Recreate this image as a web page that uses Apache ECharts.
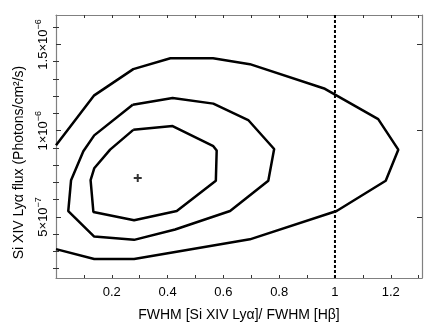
<!DOCTYPE html>
<html>
<head>
<meta charset="utf-8">
<script src="https://cdn.jsdelivr.net/npm/echarts@6/dist/echarts.min.js"></script>
<style>
html,body{margin:0;padding:0;background:#fff;}
#chart{width:436px;height:327px;}
</style>
</head>
<body>
<div id="chart"></div>
<script>
// ---- data (x: FWHM ratio, y: flux in photons/cm^2/s) ----
const outerX = [0, 0.137, 0.277, 0.41, 0.563, 0.695, 0.964, 1.155, 1.227, 1.182, 1.006, 0.695, 0.28, 0.137, 0];
const outerY = [9.15e-7, 12.05e-7, 13.57e-7, 14.2e-7, 14.2e-7, 13.86e-7, 12.43e-7, 10.67e-7, 8.90e-7, 7.10e-7, 5.34e-7, 3.70e-7, 2.56e-7, 2.56e-7, 3.13e-7];

const middleX = [0.275, 0.418, 0.564, 0.689, 0.782, 0.761, 0.624, 0.427, 0.280, 0.137, 0.044, 0.054, 0.098, 0.137, 0.275];
const middleY = [11.51e-7, 11.90e-7, 11.57e-7, 10.62e-7, 8.94e-7, 7.10e-7, 5.34e-7, 4.27e-7, 3.67e-7, 3.86e-7, 5.34e-7, 7.13e-7, 8.81e-7, 9.73e-7, 11.51e-7];

const innerX = [0.277, 0.418, 0.564, 0.576, 0.573, 0.433, 0.280, 0.134, 0.124, 0.137, 0.194, 0.277];
const innerY = [10.05e-7, 10.27e-7, 9.10e-7, 8.85e-7, 7.10e-7, 5.34e-7, 4.81e-7, 5.29e-7, 7.13e-7, 7.82e-7, 8.90e-7, 10.05e-7];

const bestFitX = 0.293;
const bestFitY = 7.25e-7;

const refLineX = 1.0;

// ---- axes ----
const xMin = 0, xMax = 1.312;
const yMin = 1.457e-7, yMax = 1.671e-6;
const xTickValues = [0.1, 0.2, 0.3, 0.4, 0.5, 0.6, 0.7, 0.8, 0.9, 1.0, 1.1, 1.2, 1.3];
const xLabelValues = [0.2, 0.4, 0.6, 0.8, 1.0, 1.2];
const yMajorValues = [5e-7, 1e-6, 1.5e-6];
const yMinorValues = [2e-7, 3e-7, 4e-7, 6e-7, 7e-7, 8e-7, 9e-7, 1.1e-6, 1.2e-6, 1.3e-6, 1.4e-6, 1.6e-6];
const yLabelText = {'5e-7': ['5×10', '−7'], '0.000001': ['1×10', '−6'], '0.0000015': ['1.5×10', '−6']};

const xTitle = 'FWHM [Si XIV Lyα]/ FWHM [Hβ]';
const yTitle = 'Si XIV Lyα flux (Photons/cm²/s)';

function pairs(xs, ys) { return xs.map((x, i) => [x, ys[i]]); }

const FONT = "'Liberation Sans', Arial, sans-serif";
const axisLineStyle = {show: true, lineStyle: {color: '#808080', width: 1.2}};
const tickStyle = {color: '#333', width: 1};

function xAxisDef(pos, labels) {
  return {
    type: 'value', position: pos, min: xMin, max: xMax,
    axisLine: Object.assign({onZero: false}, axisLineStyle),
    splitLine: {show: false},
    axisTick: {show: true, inside: true, length: 3, customValues: xTickValues, lineStyle: tickStyle},
    axisLabel: labels ? {
      show: true, customValues: xLabelValues, color: '#000', fontFamily: FONT, fontSize: 13, margin: 8,
      formatter: v => String(Math.round(v * 10) / 10)
    } : {show: false},
    name: labels ? xTitle : '',
    nameLocation: 'middle', nameGap: 30,
    nameTextStyle: {color: '#000', fontFamily: FONT, fontSize: 14}
  };
}

function yAxisDef(pos, major, labels) {
  const o = {
    type: 'value', position: pos, min: yMin, max: yMax,
    axisLine: major ? Object.assign({onZero: false}, axisLineStyle) : {show: false},
    splitLine: {show: false},
    axisTick: {show: true, inside: true, length: major ? 5 : 3,
      customValues: major ? yMajorValues : yMinorValues, lineStyle: tickStyle},
    axisLabel: {show: false}
  };
  if (labels) {
    o.axisLabel = {
      show: true, customValues: yMajorValues, rotate: 90, margin: 6,
      fontFamily: FONT, color: '#000',
      formatter: v => {
        const key = String(v);
        const t = yLabelText[key] || yLabelText[String(Number(v.toPrecision(3)))];
        return t ? '{b|' + t[0] + '}{s|' + t[1] + '}' : '';
      },
      rich: {
        b: {fontSize: 13, fontFamily: FONT, color: '#000', verticalAlign: 'bottom', lineHeight: 16},
        s: {fontSize: 9, fontFamily: FONT, color: '#000', verticalAlign: 'bottom', lineHeight: 16, padding: [0, 0, 7, 0]}
      }
    };
    o.name = yTitle;
    o.nameLocation = 'middle';
    o.nameGap = 26;
    o.nameRotate = 90;
    o.nameTextStyle = {color: '#000', fontFamily: FONT, fontSize: 14, padding: [0, 32, 0, 0]};
  }
  return o;
}

const lineStyleC = {color: '#000', width: 2.5};

const option = {
  animation: false,
  backgroundColor: '#fff',
  grid: {left: 56, right: 14, top: 15, bottom: 45, containLabel: false},
  xAxis: [xAxisDef('bottom', true), xAxisDef('top', false)],
  yAxis: [
    yAxisDef('left', true, true),
    yAxisDef('left', false, false),
    yAxisDef('right', true, false),
    yAxisDef('right', false, false)
  ],
  series: [
    {type: 'line', name: 'outer', data: pairs(outerX, outerY), showSymbol: false, symbol: 'none',
     lineStyle: lineStyleC, xAxisIndex: 0, yAxisIndex: 0, z: 3},
    {type: 'line', name: 'middle', data: pairs(middleX, middleY), showSymbol: false, symbol: 'none',
     lineStyle: lineStyleC, xAxisIndex: 0, yAxisIndex: 0, z: 3},
    {type: 'line', name: 'inner', data: pairs(innerX, innerY), showSymbol: false, symbol: 'none',
     lineStyle: lineStyleC, xAxisIndex: 0, yAxisIndex: 0, z: 3},
    {type: 'line', name: 'ref', data: [[refLineX, yMin], [refLineX, yMax]], showSymbol: false, symbol: 'none',
     lineStyle: {color: '#000', width: 2, type: [3, 2]}, xAxisIndex: 0, yAxisIndex: 0, z: 2},
    {type: 'scatter', name: 'best', data: [[bestFitX, bestFitY]],
     symbol: 'path://M3,0H5V8H3Z M0,3H8V5H0Z', symbolSize: 8,
     itemStyle: {color: '#000'}, xAxisIndex: 0, yAxisIndex: 0, z: 4}
  ]
};

const chart = echarts.init(document.getElementById('chart'), null, {renderer: 'canvas'});
chart.setOption(option);
</script>
</body>
</html>
